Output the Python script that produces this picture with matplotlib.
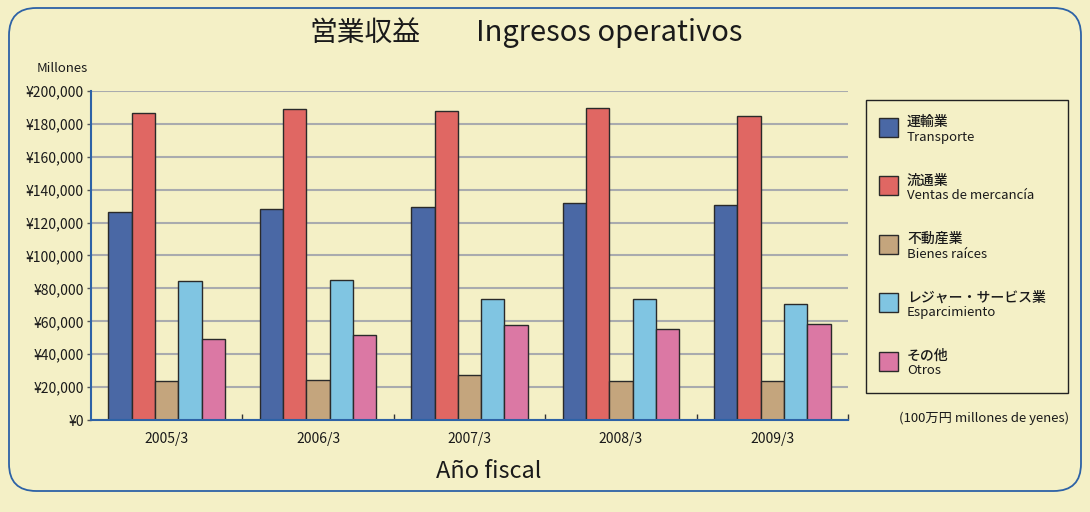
import matplotlib
matplotlib.use('Agg')
import matplotlib.pyplot as plt
import numpy as np
from matplotlib.patches import FancyBboxPatch, Rectangle

plt.rcParams['font.family'] = ['Noto Sans CJK JP', 'DejaVu Sans']

# ---- data ----
years = ['2005/3', '2006/3', '2007/3', '2008/3', '2009/3']
transporte = [126500, 128300, 129700, 132100, 130700]
ventas = [186400, 188800, 187900, 189900, 184800]
bienes = [23800, 24200, 27300, 23600, 24000]
esparcimiento = [84300, 84900, 73500, 73700, 70500]
otros = [49100, 51600, 57800, 55400, 58200]
series = [transporte, ventas, bienes, esparcimiento, otros]
series_jp = ['運輸業', '流通業', '不動産業', 'レジャー・サービス業', 'その他']
series_es = ['Transporte', 'Ventas de mercancía', 'Bienes raíces', 'Esparcimiento', 'Otros']
y_ticks = list(range(0, 200001, 20000))
y_labels = [f'¥{v:,}' for v in y_ticks]

colors = ['#4A68A5', '#E06763', '#C4A57D', '#80C5E2', '#DB78A4']
BG = '#F4F0C6'
BORDER = '#2D62A6'

W, H = 1090, 512
fig = plt.figure(figsize=(W / 100, H / 100), dpi=100)
fig.patch.set_facecolor(BG)


def fx(x):
    return x / W


def fy(y):
    return 1 - y / H


# rounded border
border = FancyBboxPatch((fx(9), fy(491)), fx(1081) - fx(9), fy(8) - fy(491),
                        boxstyle='round,pad=0,rounding_size=0.025',
                        transform=fig.transFigure, fill=False,
                        edgecolor=BORDER, linewidth=1.3, mutation_aspect=W / H)
fig.add_artist(border)

ax = fig.add_axes([fx(91), fy(420), fx(848) - fx(91), fy(91) - fy(420)])
ax.set_facecolor(BG)

n = len(series)
bw = 0.154
x = np.arange(len(years))
for i, (vals, c) in enumerate(zip(series, colors)):
    ax.bar(x + (i - (n - 1) / 2) * bw, vals, width=bw, color=c,
           edgecolor='#2a2a2a', linewidth=1.0, zorder=3)

ax.set_xlim(-0.5, len(years) - 0.5)
ax.set_ylim(0, 200000)
ax.set_yticks(y_ticks)
ax.set_yticklabels(y_labels, fontsize=10, color='#1a1a1a')
ax.set_xticks(x)
ax.set_xticklabels(years, fontsize=10, color='#1a1a1a')
ax.set_xticks(np.arange(0.5, len(years), 1.0), minor=True)
ax.tick_params(axis='x', which='major', length=0, pad=9)
ax.tick_params(axis='x', which='minor', length=4, direction='in', color='#333333', width=1)
ax.tick_params(axis='y', length=3, color='#555555', width=1, pad=2)
ax.grid(axis='y', color='#A9ABAE', linewidth=1.5, zorder=0)
for s in ['top', 'right']:
    ax.spines[s].set_visible(False)
for s in ['left', 'bottom']:
    ax.spines[s].set_color(BORDER)
    ax.spines[s].set_linewidth(1.5)
    ax.spines[s].set_zorder(4)

# titles and labels
fig.text(fx(365), fy(33), '営業収益', fontsize=20, ha='center', va='center', color='#1a1a1a')
fig.text(fx(609), fy(33), 'Ingresos operativos', fontsize=21, ha='center', va='center', color='#1a1a1a')
fig.text(fx(62), fy(68), 'Millones', fontsize=9.5, ha='center', va='center', color='#1a1a1a')
fig.text(fx(489), fy(471), 'Año fiscal', fontsize=17, ha='center', va='center', color='#1a1a1a')
fig.text(fx(984), fy(418), '(100万円 millones de yenes)', fontsize=9.5, ha='center', va='center', color='#1a1a1a')

# legend
fig.add_artist(Rectangle((fx(866), fy(393)), fx(1068) - fx(866), fy(100) - fy(393),
                         transform=fig.transFigure, fill=False, edgecolor='#222222', linewidth=1.0))
for i in range(n):
    yc = 127 + i * 58.5
    fig.add_artist(Rectangle((fx(879), fy(yc + 9.5)), fx(898) - fx(879), fy(yc - 9.5) - fy(yc + 9.5),
                             transform=fig.transFigure, facecolor=colors[i],
                             edgecolor='#2a2a2a', linewidth=1.0))
    fig.text(fx(907), fy(yc - 5), series_jp[i], fontsize=10, ha='left', va='center',
             color='#1a1a1a', fontweight='medium')
    fig.text(fx(907), fy(yc + 10), series_es[i], fontsize=9.5, ha='left', va='center', color='#1a1a1a')

fig.savefig('out.png', dpi=100, facecolor=BG)
